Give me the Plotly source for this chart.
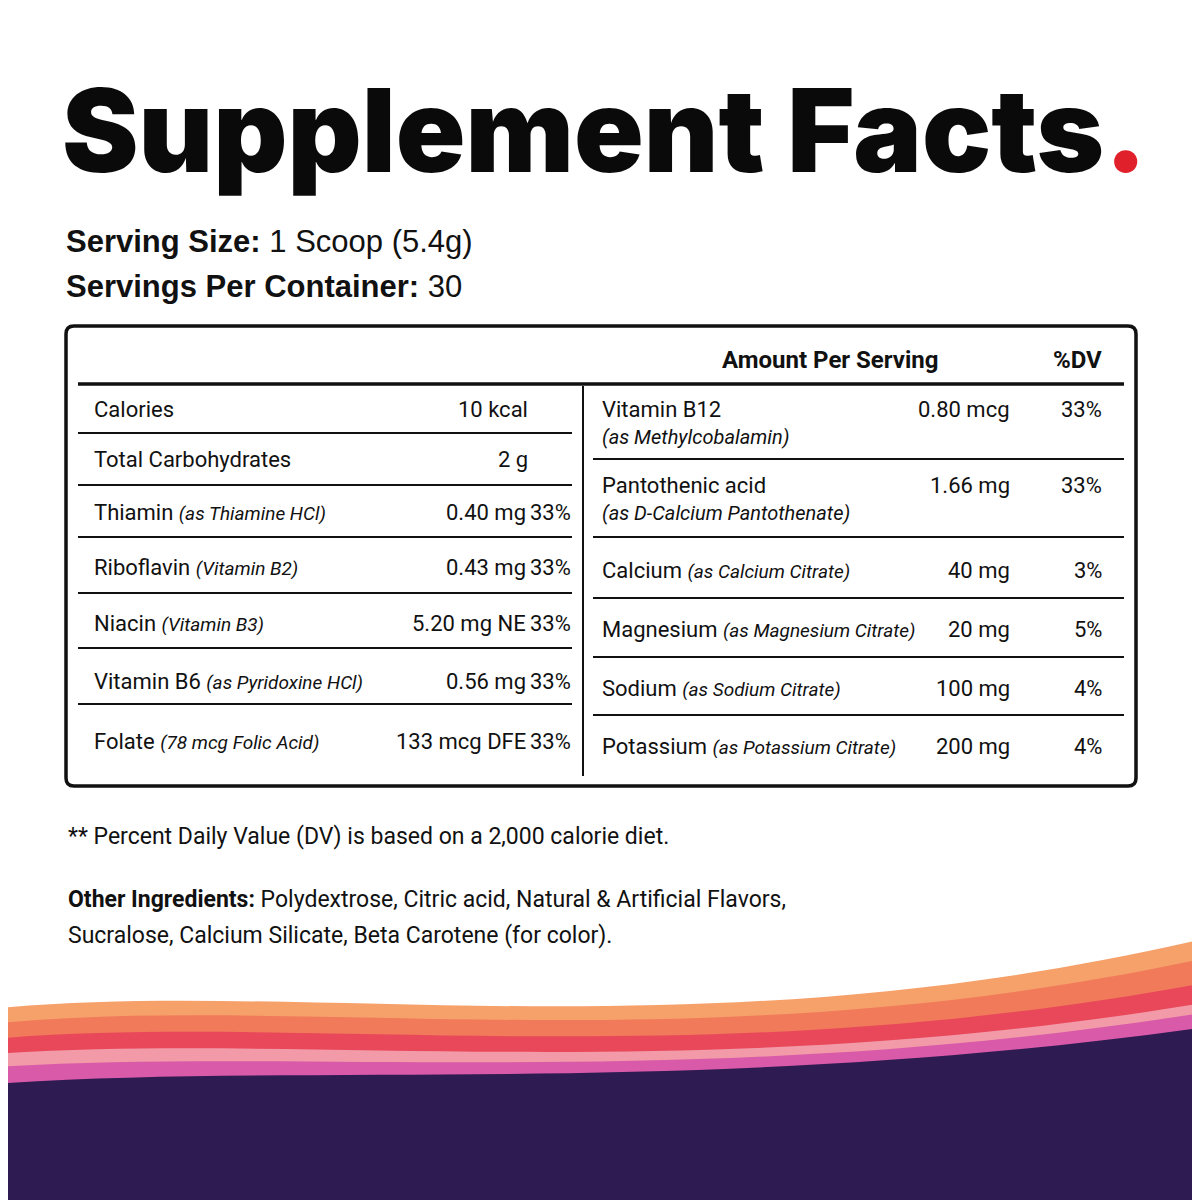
import plotly.graph_objects as go

# ---- data ----
left_names = ["Calories", "Total Carbohydrates", "Thiamin", "Riboflavin", "Niacin", "Vitamin B6", "Folate"]
left_subs = ["", "", "(as Thiamine HCl)", "(Vitamin B2)", "(Vitamin B3)", "(as Pyridoxine HCl)", "(78 mcg Folic Acid)"]
left_amounts = ["10 kcal", "2 g", "0.40 mg", "0.43 mg", "5.20 mg NE", "0.56 mg", "133 mcg DFE"]
left_dv = ["", "", "33%", "33%", "33%", "33%", "33%"]

right_names = ["Vitamin B12", "Pantothenic acid", "Calcium", "Magnesium", "Sodium", "Potassium"]
right_subs = ["(as Methylcobalamin)", "(as D-Calcium Pantothenate)", "(as Calcium Citrate)",
              "(as Magnesium Citrate)", "(as Sodium Citrate)", "(as Potassium Citrate)"]
right_amounts = ["0.80 mcg", "1.66 mg", "40 mg", "20 mg", "100 mg", "200 mg"]
right_dv = ["33%", "33%", "3%", "5%", "4%", "4%"]
right_sub_newline = [True, True, False, False, False, False]

# layout positions (pixels, y down)
left_y = [409, 459, 512, 567, 623, 681, 741]
left_lines = [433, 485, 537, 593, 648, 704]
right_y = [409, 485, 570, 629, 688, 746]
right_lines = [459, 537, 598, 657, 715]

FONT = "Roboto"
OFF = 8  # page body margin
fig = go.Figure()
shapes = []
ann = []


def text(x, y, s, size=22, anchor="left", color="#111", family=FONT, weight=None):
    f = dict(family=family, size=size, color=color)
    if weight:
        f["weight"] = weight
    ann.append(dict(x=x, y=y, xref="x", yref="y", text=s, showarrow=False,
                    xanchor=anchor, yanchor="middle", font=f))


# ---- decorative waves ----
waves = [
    ("M-20,1010 C300,975 700,1060 1220,935 L1220,1220 L-20,1220 Z", "#f6a06a"),
    ("M-20,1025 C300,990 700,1070 1220,955 L1220,1220 L-20,1220 Z", "#f07a5a"),
    ("M-20,1040 C300,1010 700,1080 1220,980 L1220,1220 L-20,1220 Z", "#e8485a"),
    ("M-20,1055 C300,1030 700,1090 1220,1000 L1220,1220 L-20,1220 Z", "#f29aa8"),
    ("M-20,1068 C300,1045 700,1095 1220,1010 L1220,1220 L-20,1220 Z", "#d95aa8"),
    ("M-20,1085 C300,1060 700,1100 1220,1025 L1220,1220 L-20,1220 Z", "#2e1b52"),
]
for p, c in waves:
    shapes.append(dict(type="path", path=p, fillcolor=c, line=dict(width=0), layer="below"))

# ---- title ----
ann.append(dict(x=60, y=130, xref="x", yref="y", showarrow=False, xanchor="left", yanchor="middle",
                text="Supplement Facts<span style='color:#e0212c'>.</span>",
                font=dict(family="Inter", size=115, color="#0a0a0a", weight=900)))
text(64, 241, "<b>Serving Size:</b> 1 Scoop (5.4g)", size=31, family="Liberation Sans")
text(64, 286, "<b>Servings Per Container:</b> 30", size=31, family="Liberation Sans")

# ---- table box ----
shapes.append(dict(type="path", path="M74,326 L1128,326 Q1136,326 1136,334 L1136,778 Q1136,786 1128,786 "
                   "L74,786 Q66,786 66,778 L66,334 Q66,326 74,326 Z",
                   line=dict(color="#111", width=3.5), fillcolor="rgba(0,0,0,0)"))
shapes.append(dict(type="line", x0=78, x1=1124, y0=384, y1=384, line=dict(color="#111", width=3.5)))
shapes.append(dict(type="line", x0=583, x1=583, y0=386, y1=776, line=dict(color="#111", width=2)))
text(830, 360, "<b>Amount Per Serving</b>", size=24, anchor="center")
text(1077, 360, "<b>%DV</b>", size=24, anchor="center")

for y in left_lines:
    shapes.append(dict(type="line", x0=78, x1=572, y0=y, y1=y, line=dict(color="#111", width=2)))
for y in right_lines:
    shapes.append(dict(type="line", x0=593, x1=1124, y0=y, y1=y, line=dict(color="#111", width=2)))

for i, name in enumerate(left_names):
    s = name + (f" <i><span style='font-size:19px'>{left_subs[i]}</span></i>" if left_subs[i] else "")
    text(92, left_y[i], s)
    if left_dv[i]:
        text(528, left_y[i], left_amounts[i], anchor="right")
        text(573, left_y[i], left_dv[i], anchor="right")
    else:
        text(530, left_y[i], left_amounts[i], anchor="right")

for i, name in enumerate(right_names):
    y = right_y[i]
    if right_sub_newline[i]:
        text(600, y, name)
        text(600, y + 28, f"<i>{right_subs[i]}</i>", size=20)
    else:
        text(600, y, name + f" <i><span style='font-size:19px'>{right_subs[i]}</span></i>")
    text(1012, y, right_amounts[i], anchor="right")
    text(1104, y, right_dv[i], anchor="right")

# ---- footnotes ----
text(66, 836, "** Percent Daily Value (DV) is based on a 2,000 calorie diet.", size=23)
text(66, 899, "<b>Other Ingredients:</b> Polydextrose, Citric acid, Natural & Artificial Flavors,", size=23)
text(66, 935, "Sucralose, Calcium Silicate, Beta Carotene (for color).", size=23)

fig.update_layout(width=1200, height=1200, margin=dict(l=0, r=0, t=0, b=0),
                  paper_bgcolor="white", plot_bgcolor="white", showlegend=False,
                  shapes=shapes, annotations=ann)
fig.update_xaxes(range=[OFF, 1200 + OFF], visible=False, fixedrange=True)
fig.update_yaxes(range=[1200 + OFF, OFF], visible=False, fixedrange=True)
fig.write_html("out.html")
